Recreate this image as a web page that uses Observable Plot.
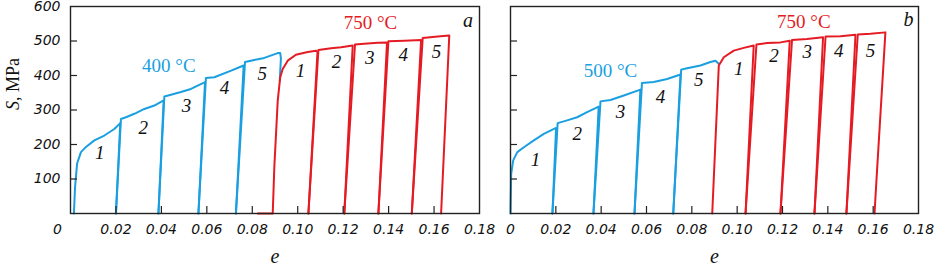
<!DOCTYPE html>
<html>
<head>
<meta charset="utf-8">
<script src="https://cdn.jsdelivr.net/npm/d3@7"></script>
<script src="https://cdn.jsdelivr.net/npm/@observablehq/plot@0.6"></script>
<style>
  html, body { margin: 0; padding: 0; background: #fff; }
  #wrap { position: relative; width: 935px; height: 269px; overflow: hidden; background: #fff; }
  #pa, #pb { position: absolute; top: 0; }
  #pa { left: 0; }
  #pb { left: 480px; }
  svg { overflow: visible; }
</style>
</head>
<body>
<div id="wrap"><div id="pb"></div><div id="pa"></div></div>
<script>
// ---- Data (strain e, true stress S in MPa) ----
// Panel a: 400 °C pre-strain passes, then 750 °C passes
const a400 = [
  [[0.0015,0],[0.0020,76],[0.0029,145],[0.0046,178],[0.0068,193],[0.0105,212],[0.0149,226],[0.0193,245],[0.0219,262],[0.0200,0]],
  [[0.0200,0],[0.0222,274],[0.0244,279],[0.0281,289],[0.0325,303],[0.0369,313],[0.0410,328],[0.0387,0]],
  [[0.0387,0],[0.0413,339],[0.0442,344],[0.0486,352],[0.0530,361],[0.0592,381],[0.0563,0]],
  [[0.0563,0],[0.0596,393],[0.0633,395],[0.0707,414],[0.0743,424],[0.0762,429],[0.0728,0]],
  [[0.0728,0],[0.0768,439],[0.0794,443],[0.0853,451],[0.0912,465],[0.0923,465],[0.0926,450],[0.0921,385]]
];
const a750 = [
  [[0.0824,0],[0.0890,0],[0.0897,134],[0.0912,327],[0.0923,395],[0.0934,419],[0.0956,443],[0.0992,460],[0.1044,468],[0.1081,472],[0.1087,468],[0.1047,0]],
  [[0.1047,0],[0.1091,474],[0.1147,479],[0.1191,482],[0.1242,487],[0.1205,0]],
  [[0.1205,0],[0.1252,490],[0.1293,492],[0.1352,495],[0.1393,496],[0.1355,0]],
  [[0.1355,0],[0.1399,499],[0.1469,501],[0.1543,503],[0.1502,0]],
  [[0.1502,0],[0.1550,509],[0.1616,513],[0.1667,516],[0.1631,0]]
];
// Panel b: 500 °C pre-strain passes, then 750 °C passes
const b500 = [
  [[0,0],[0.0003,115],[0.0012,154],[0.0030,178],[0.0059,192],[0.0103,212],[0.0147,231],[0.0201,248],[0.0185,0]],
  [[0.0185,0],[0.0208,262],[0.0250,270],[0.0294,279],[0.0338,294],[0.0389,310],[0.0366,0]],
  [[0.0366,0],[0.0397,325],[0.0441,329],[0.0500,342],[0.0573,359],[0.0547,0]],
  [[0.0547,0],[0.0580,378],[0.0632,381],[0.0691,390],[0.0750,403],[0.0718,0]],
  [[0.0718,0],[0.0753,417],[0.0779,421],[0.0838,429],[0.0882,439],[0.0904,443],[0.0919,434]]
];
const b750 = [
  [[0.0890,0],[0.0919,429],[0.0941,453],[0.0985,472],[0.1029,480],[0.1073,487],[0.1037,0]],
  [[0.1037,0],[0.1085,490],[0.1132,494],[0.1191,496],[0.1232,501],[0.1191,0]],
  [[0.1191,0],[0.1242,503],[0.1308,506],[0.1379,511],[0.1341,0]],
  [[0.1341,0],[0.1390,513],[0.1456,514],[0.1522,518],[0.1482,0]],
  [[0.1482,0],[0.1532,519],[0.1588,521],[0.1654,525],[0.1614,91],[0.1606,0]]
];

// Annotations (data coordinates)
const passNames = ["1","2","3","4","5"];
const aLabels400 = [[0.0129,175],[0.0320,247],[0.0511,313],[0.0678,364],[0.0844,405]];
const aLabels750 = [[0.1012,414],[0.1171,439],[0.1317,451],[0.1464,461],[0.1611,468]];
const bLabels500 = [[0.0110,154],[0.0294,231],[0.0485,294],[0.0662,337],[0.0831,386]];
const bLabels750 = [[0.1007,419],[0.1162,458],[0.1309,468],[0.1448,472],[0.1588,472]];
const aTemps = [{t:"400 °C", e:0.0433, s:429, c:"blue"}, {t:"750 °C", e:0.1320, s:552, c:"red"}];
const bTemps = [{t:"500 °C", e:0.0441, s:414, c:"blue"}, {t:"750 °C", e:0.1294, s:554, c:"red"}];
const panelTags = [{t:"a", e:0.1749, s:559}, {t:"b", e:0.1756, s:562}];

// Axis ticks
const xTickVals = [0.02,0.04,0.06,0.08,0.10,0.12,0.14,0.16,0.18];
const xInnerTicks = [0.02,0.04,0.06,0.08,0.10,0.12,0.14,0.16];
const yTickVals = [100,200,300,400,500,600];
const yInnerTicks = [100,200,300,400,500];

const BLUE = "#1a9fe0", RED = "#e51b24", INK = "#222";

function toRows(segs) {
  const rows = [];
  segs.forEach((seg, i) => seg.forEach(([e, s]) => rows.push({e, s, seg: i})));
  return rows;
}
function labelRows(pts) { return pts.map(([e, s], i) => ({e, s, t: passNames[i]})); }

function panel({width, marginLeft, marginRight, first, second, lab1, lab2, temps, tag, showY}) {
  const frameW = width - marginLeft - marginRight;
  const frameH = 269 - 6 - 56;
  const marks = [
    Plot.line(toRows(first), {x: "e", y: "s", z: "seg", stroke: BLUE, strokeWidth: 2, strokeLinejoin: "round"}),
    Plot.line(toRows(second), {x: "e", y: "s", z: "seg", stroke: RED, strokeWidth: 2, strokeLinejoin: "round"}),
    Plot.frame({stroke: INK, strokeWidth: 1.4}),
    Plot.tickX(xInnerTicks, {x: d => d, stroke: INK, strokeWidth: 1.2, insetTop: frameH - 7}),
    Plot.tickY(yInnerTicks, {y: d => d, stroke: INK, strokeWidth: 1.2, insetRight: frameW - 7}),
    Plot.axisX(xTickVals, {tickSize: 0, tickPadding: 11, tickFormat: d3.format(".2f"), fill: "#111", label: null}),
    Plot.text(labelRows(lab1), {x: "e", y: "s", text: "t", fontFamily: "Liberation Serif", fontStyle: "italic", fontSize: 19, fill: "#111"}),
    Plot.text(labelRows(lab2), {x: "e", y: "s", text: "t", fontFamily: "Liberation Serif", fontStyle: "italic", fontSize: 19, fill: "#111"}),
    Plot.text(temps, {x: "e", y: "s", text: "t", fill: d => d.c === "blue" ? BLUE : RED, fontFamily: "Liberation Serif", fontStyle: "normal", fontSize: 19}),
    Plot.text([tag], {x: "e", y: "s", text: "t", fontFamily: "Liberation Serif", fontStyle: "italic", fontSize: 20, fill: "#111"}),
    Plot.text(["e"], {frameAnchor: "bottom", dy: 49, fontFamily: "Liberation Serif", fontStyle: "italic", fontSize: 20, fill: "#111"})
  ];
  if (showY) {
    marks.push(
      Plot.axisY(yTickVals, {tickSize: 0, tickPadding: 10, fill: "#111", label: null}),
      Plot.axisX([0], {tickSize: 0, tickPadding: 11, dx: -13, tickFormat: () => "0", fill: "#111", label: null}),
      Plot.text(["S, MPa"], {frameAnchor: "left", dx: -57, rotate: -90, fontFamily: "Liberation Serif", fontStyle: "normal", fontSize: 18, fill: "#111"})
    );
  } else {
    marks.push(Plot.axisX([0], {tickSize: 0, tickPadding: 11, tickFormat: () => "0", fill: "#111", label: null}));
  }
  const svg = Plot.plot({
    width, height: 269,
    marginLeft, marginRight, marginTop: 6, marginBottom: 56,
    x: {domain: [0, 0.18], label: null},
    y: showY ? {domain: [0, 600], label: null} : {domain: [0, 600], label: null, axis: null},
    style: {fontFamily: "DejaVu Sans", fontStyle: "italic", fontSize: "14px", background: "transparent", color: "#111", overflow: "visible"},
    marks
  });
  d3.select(svg).selectAll("text").filter(function() { return this.textContent === "S, MPa"; })
    .each(function() {
      const el = d3.select(this);
      const tspan = el.select("tspan");
      const target = tspan.empty() ? el : tspan;
      target.text(null);
      target.append("tspan").attr("font-style", "italic").text("S");
      target.append("tspan").attr("font-style", "normal").text(", MPa");
    });
  return svg;
}

document.getElementById("pa").append(panel({
  width: 480, marginLeft: 70, marginRight: 1,
  first: a400, second: a750, lab1: aLabels400, lab2: aLabels750,
  temps: aTemps, tag: panelTags[0], showY: true
}));
document.getElementById("pb").append(panel({
  width: 455, marginLeft: 30, marginRight: 17,
  first: b500, second: b750, lab1: bLabels500, lab2: bLabels750,
  temps: bTemps, tag: panelTags[1], showY: false
}));
</script>
</body>
</html>
